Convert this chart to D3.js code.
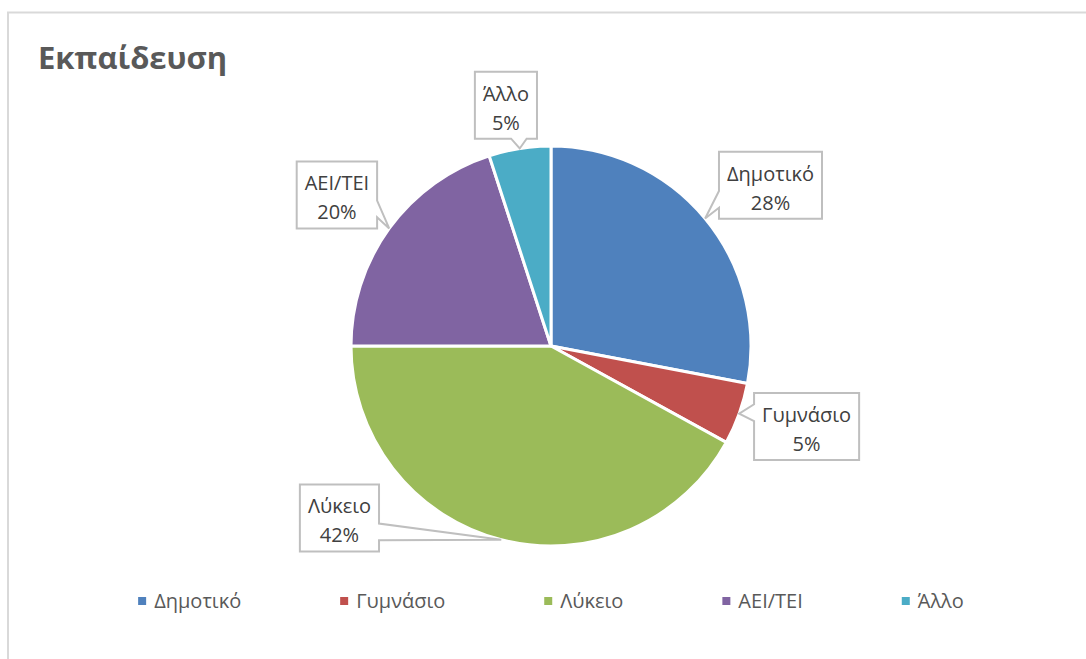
<!DOCTYPE html>
<html>
<head>
<meta charset="utf-8">
<script src="https://cdn.jsdelivr.net/npm/d3@7"></script>
<style>
  html, body { margin: 0; padding: 0; background: #fff; }
  svg { display: block; font-family: "Open Sans", "Noto Sans", sans-serif; }
</style>
</head>
<body>
<svg id="chart" width="1086" height="659"></svg>
<script>
// Education level shares (%)
const categories = ["Δημοτικό", "Γυμνάσιο", "Λύκειο", "ΑΕΙ/ΤΕΙ", "Άλλο"];
const shares = [28, 5, 42, 20, 5];
const colors = ["#4F81BD", "#C0504D", "#9BBB59", "#8064A2", "#4BACC6"];
const title = "Εκπαίδευση";

const W = 1086, H = 659;
const cx = 551, cy = 346, R = 200;
const labelSize = 20;

const svg = d3.select("#chart");

// chart frame
svg.append("path")
  .attr("d", `M1090,12.5 H8 V${H + 5}`)
  .attr("fill", "none")
  .attr("stroke", "#d9d9d9")
  .attr("stroke-width", 2);

svg.append("text")
  .attr("x", 38).attr("y", 69)
  .attr("font-size", 31).attr("font-weight", 700)
  .attr("fill", "#595959")
  .text(title);

const pie = d3.pie().sort(null).value(d => d)(shares);
const arc = d3.arc().innerRadius(0).outerRadius(R);
const polar = (a, r) => [cx + Math.sin(a) * r, cy - Math.cos(a) * r];

const g = svg.append("g");
g.selectAll("path.slice").data(pie).join("path")
  .attr("class", "slice")
  .attr("transform", `translate(${cx},${cy})`)
  .attr("d", arc)
  .attr("fill", (d, i) => colors[i])
  .attr("stroke", "#fff")
  .attr("stroke-width", 3)
  .attr("stroke-linejoin", "round");

// callout placement: angular nudge (deg) from slice middle and distance from centre
const calloutPlacement = [
  { dA: 3.4, r: 272 },
  { dA: -2.3, r: 268 },
  { dA: 36.5, r: 272.6 },
  { dA: -0.8, r: 262 },
  { dA: -1.6, r: 245 }
];

function calloutPath(x0, y0, x1, y1, tx, ty) {
  const w = x1 - x0, h = y1 - y0;
  const mx = (x0 + x1) / 2, my = (y0 + y1) / 2;
  const ndx = (tx - mx) / w, ndy = (ty - my) / h;
  let side;
  if (Math.abs(ndx) > Math.abs(ndy)) side = ndx > 0 ? "right" : "left";
  else side = ndy > 0 ? "bottom" : "top";
  const vb = ty < my ? [y0 + h * 2 / 12, y0 + h * 5 / 12] : [y0 + h * 7 / 12, y0 + h * 10 / 12];
  const hb = tx < mx ? [x0 + w * 2 / 12, x0 + w * 5 / 12] : [x0 + w * 7 / 12, x0 + w * 10 / 12];
  const p = d3.path();
  p.moveTo(x0, y0);
  if (side === "top") { p.lineTo(hb[0], y0); p.lineTo(tx, ty); p.lineTo(hb[1], y0); }
  p.lineTo(x1, y0);
  if (side === "right") { p.lineTo(x1, vb[0]); p.lineTo(tx, ty); p.lineTo(x1, vb[1]); }
  p.lineTo(x1, y1);
  if (side === "bottom") { p.lineTo(hb[1], y1); p.lineTo(tx, ty); p.lineTo(hb[0], y1); }
  p.lineTo(x0, y1);
  if (side === "left") { p.lineTo(x0, vb[1]); p.lineTo(tx, ty); p.lineTo(x0, vb[0]); }
  p.closePath();
  return p.toString();
}

const labels = svg.append("g");
pie.forEach((d, i) => {
  const mid = (d.startAngle + d.endAngle) / 2;
  const pl = calloutPlacement[i];
  const [bx, by] = polar(mid + pl.dA * Math.PI / 180, pl.r);
  const [tx, ty] = polar(mid, R);
  const lg = labels.append("g");
  const box = lg.append("path");
  const t1 = lg.append("text").attr("x", bx).attr("text-anchor", "middle")
    .attr("font-size", labelSize).attr("fill", "#404040").text(categories[i]);
  const t2 = lg.append("text").attr("x", bx).attr("text-anchor", "middle")
    .attr("font-size", labelSize).attr("fill", "#404040").text(shares[i] + "%");
  const tw = Math.max(t1.node().getComputedTextLength(), t2.node().getComputedTextLength());
  const bw = tw + 16, bh = 67;
  const x0 = bx - bw / 2, y0 = by - bh / 2;
  t1.attr("y", y0 + 29);
  t2.attr("y", y0 + 58);
  box.attr("d", calloutPath(x0, y0, x0 + bw, y0 + bh, tx, ty))
    .attr("fill", "#fff")
    .attr("stroke", "#bfbfbf")
    .attr("stroke-width", 2)
    .attr("stroke-linejoin", "miter");
});

// legend, centred under the pie
const legend = svg.append("g");
const items = categories.map((c, i) => {
  const it = legend.append("g");
  it.append("rect").attr("width", 8).attr("height", 8).attr("y", 597).attr("fill", colors[i]);
  const t = it.append("text").attr("x", 16).attr("y", 608)
    .attr("font-size", labelSize).attr("fill", "#595959").text(c);
  return { g: it, w: 16 + t.node().getComputedTextLength() };
});
const gap = 99;
const total = d3.sum(items, d => d.w) + gap * (items.length - 1);
let lx = cx - total / 2;
items.forEach(it => { it.g.attr("transform", `translate(${lx},0)`); lx += it.w + gap; });
</script>
</body>
</html>
